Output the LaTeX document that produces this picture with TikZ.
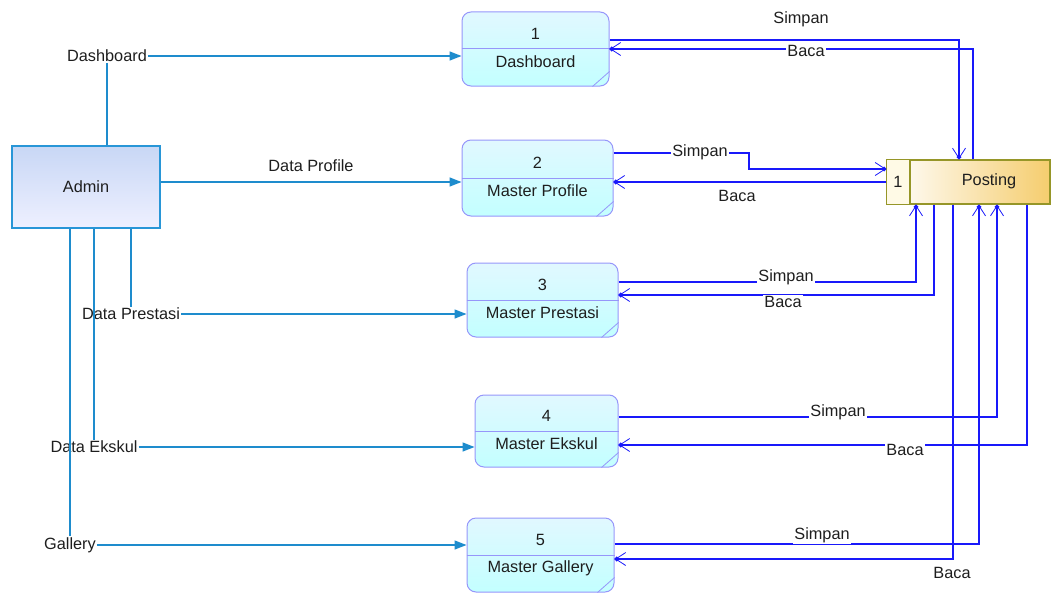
\documentclass[tikz,border=0pt]{standalone}
\usepackage{fontspec}
\setmainfont{Liberation Sans}
\usetikzlibrary{arrows.meta}
\definecolor{acol}{RGB}{30,140,205}
\definecolor{bcol}{RGB}{25,25,250}
\definecolor{procb}{RGB}{150,150,250}
\definecolor{proctop}{RGB}{225,248,255}
\definecolor{procbot}{RGB}{195,255,255}
\definecolor{admb}{RGB}{40,150,215}
\definecolor{admtop}{RGB}{200,215,245}
\definecolor{admbot}{RGB}{238,240,255}
\definecolor{storeb}{RGB}{150,150,40}
\definecolor{storer}{RGB}{245,205,110}
\definecolor{storel}{RGB}{255,250,230}
\definecolor{txt}{RGB}{30,30,30}
\tikzset{
  proc/.style={draw=procb, line width=1pt, rounded corners=9pt, top color=proctop, bottom color=procbot, inner sep=0pt},
  admbox/.style={draw=admb, line width=1.3pt, top color=admtop, bottom color=admbot, inner sep=0pt},
  storebox/.style={draw=storeb, line width=1.2pt, left color=white, right color=storer, inner sep=0pt},
  aflow/.style={draw=acol, line width=1.4pt},
  aarrow/.style={aflow, -{Triangle[length=12pt,width=9pt]}},
  bflow/.style={draw=bcol, line width=1.4pt},
  barrow/.style={bflow, -{Straight Barb[length=10pt,width=13pt,line width=0.8pt,sep=-4pt]Circle[length=4.5pt]}},
  lbl/.style={inner sep=1pt, text=txt},
  blbl/.style={fill=white, inner sep=1.5pt, text=txt},
  ptxt/.style={inner sep=0pt, text=txt}
}
\begin{document}
\begin{tikzpicture}[x=1pt,y=-1pt,font=\fontsize{16.3}{18}\selectfont]
\useasboundingbox (0,0) rectangle (1051,594);

% Admin
\node[admbox, minimum width=148pt, minimum height=82pt] (admin) at (86,187) {};
\node[ptxt] (admintxt) at (86,187) {Admin};

% Processes
\node[proc, minimum width=147pt, minimum height=74pt] (p1) at (535.5,49) {};
\node[proc, minimum width=151pt, minimum height=76pt] (p2) at (537.5,178) {};
\node[proc, minimum width=151pt, minimum height=74pt] (p3) at (542.5,300) {};
\node[proc, minimum width=143pt, minimum height=72pt] (p4) at (546.5,431) {};
\node[proc, minimum width=147pt, minimum height=74pt] (p5) at (540.5,555) {};
\foreach \p/\n/\t in {p1/1/Dashboard, p2/2/Master Profile, p3/3/Master Prestasi, p4/4/Master Ekskul, p5/5/Master Gallery}{
  \draw[procb, line width=1pt] (\p.west) -- (\p.east);
  \node[ptxt] (\p num) at ([yshift=15pt]\p.center) {\n};
  \node[ptxt] (\p name) at ([yshift=-13pt]\p.center) {\t};
  \draw[procb, line width=0.8pt] ([xshift=-17pt]\p.south east) -- ([yshift=15pt]\p.south east);
}

% Data store
\node[storebox, minimum width=163pt, minimum height=44pt] (post) at (968.5,182) {};
\fill[storel] ([shift={(0.6pt,-0.6pt)}]post.north west) rectangle (910,0 |- post.south);
\draw[storeb, line width=1.2pt] (post.north west) rectangle (post.south east);
\draw[storeb, line width=1.2pt] (910,0 |- post.north) -- (910,0 |- post.south);
\node[ptxt] (postnum) at (898,182) {1};
\node[ptxt] (posttxt) at (989,181) {Posting};

% Admin flows
\node[lbl] (lDash) at (107,56) {Dashboard};
\node[lbl] (lProf) at (311,166) {Data Profile};
\node[lbl] (lPres) at (131,314) {Data Prestasi};
\node[lbl] (lEks) at (94,447) {Data Ekskul};
\node[lbl] (lGal) at (70,545) {Gallery};

\draw[aflow] (lDash.south |- admin.north) -- (lDash.south);
\draw[aarrow] (lDash.east) -- (lDash.east -| p1.west);
\draw[aarrow] (admin.east |- 0,182) -- (p2.west |- 0,182);
\draw[aflow] (lPres.north |- admin.south) -- (lPres.north);
\draw[aarrow] (lPres.east) -- (lPres.east -| p3.west);
\draw[aflow] (lEks.north |- admin.south) -- (lEks.north);
\draw[aarrow] (lEks.east) -- (lEks.east -| p4.west);
\draw[aflow] (lGal.north |- admin.south) -- (lGal.north);
\draw[aarrow] (lGal.east) -- (lGal.east -| p5.west);

% Blue flows
\draw[barrow] (p1.east |- 0,40) -- (959,40) -- (959,0 |- post.north);
\draw[barrow] (973,0 |- post.north) -- (973,49) -- (p1.east |- 0,49);
\draw[barrow] (p2.east |- 0,153) -- (749,153) -- (749,169) -- (post.west |- 0,169);
\draw[barrow] (post.west |- 0,182) -- (p2.east |- 0,182);
\draw[barrow] (p3.east |- 0,282) -- (916,282) -- (916,0 |- post.south);
\draw[barrow] (934,0 |- post.south) -- (934,295) -- (p3.east |- 0,295);
\draw[barrow] (p4.east |- 0,417) -- (997,417) -- (997,0 |- post.south);
\draw[barrow] (1027,0 |- post.south) -- (1027,445) -- (p4.east |- 0,445);
\draw[barrow] (p5.east |- 0,544) -- (979,544) -- (979,0 |- post.south);
\draw[barrow] (953,0 |- post.south) -- (953,559) -- (p5.east |- 0,559);

\node[lbl] (s1) at (801,19) {Simpan};
\node[blbl] (b1) at (806,51) {Baca};
\node[blbl] (s2) at (700,152) {Simpan};
\node[lbl] (b2) at (737,196) {Baca};
\node[blbl] (s3) at (786,277) {Simpan};
\node[blbl] (b3) at (783,302) {Baca};
\node[blbl] (s4) at (838,412) {Simpan};
\node[blbl] (b4) at (905,450) {Baca};
\node[blbl] (s5) at (822,535) {Simpan};
\node[lbl] (b5) at (952,573) {Baca};
\end{tikzpicture}
\end{document}
